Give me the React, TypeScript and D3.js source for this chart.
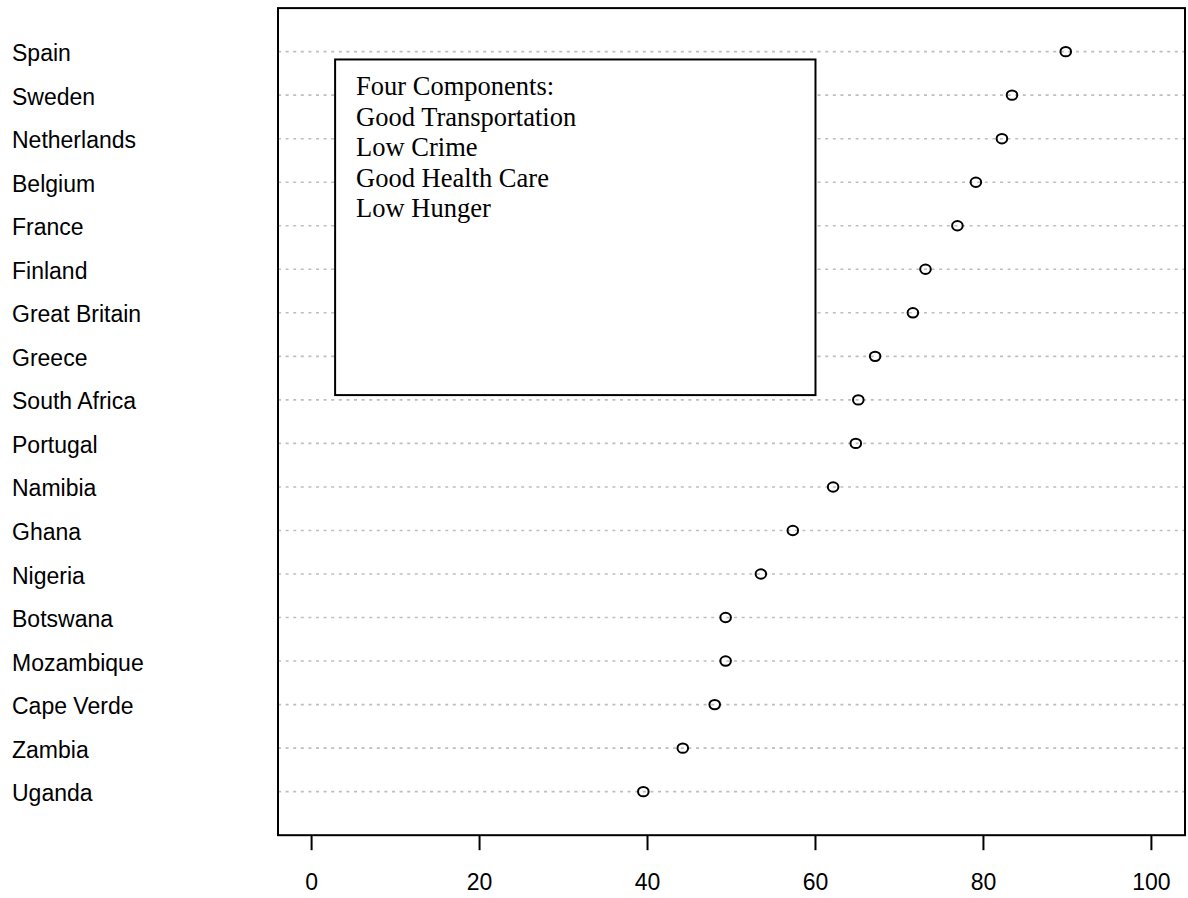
import React, { useRef, useEffect } from "react";
import * as d3 from "d3";

// countries top to bottom, scores
const countries = [
  "Spain", "Sweden", "Netherlands", "Belgium", "France", "Finland",
  "Great Britain", "Greece", "South Africa", "Portugal", "Namibia", "Ghana",
  "Nigeria", "Botswana", "Mozambique", "Cape Verde", "Zambia", "Uganda",
];
const scores = [
  89.8, 83.4, 82.2, 79.1, 76.9, 73.1,
  71.6, 67.1, 65.1, 64.8, 62.1, 57.3,
  53.5, 49.3, 49.3, 48.0, 44.2, 39.5,
];
const xTicks = [0, 20, 40, 60, 80, 100];
const legendLines = [
  "Four Components:",
  "Good Transportation",
  "Low Crime",
  "Good Health Care",
  "Low Hunger",
];

const W = 1188;
const H = 898;
const SANS = "'Liberation Sans', Arial, Helvetica, sans-serif";
const SERIF = "'Liberation Serif', 'Times New Roman', Times, serif";

const App = () => {
  const svgRef = useRef<SVGSVGElement | null>(null);

  useEffect(() => {
    const svg = d3.select(svgRef.current);
    svg.selectAll("*").remove();

    const n = countries.length;
    const x = d3.scaleLinear().domain([-4, 104]).range([278, 1185]);
    const y = d3.scaleLinear().domain([0, n + 1]).range([835.2, 8.1]);
    // row position: first country at top
    const rowY = (i: number) => y(n - i);

    const [x0, x1] = x.range();
    const [yb, yt] = y.range();

    // dotted guide lines
    svg.append("g")
      .selectAll("line")
      .data(countries)
      .enter()
      .append("line")
      .attr("x1", x0)
      .attr("x2", x1)
      .attr("y1", (d, i) => rowY(i))
      .attr("y2", (d, i) => rowY(i))
      .attr("stroke", "#bebebe")
      .attr("stroke-width", 1.6)
      .attr("stroke-dasharray", "3,4.6");

    // legend box (drawn in data coords, white fill covers lines)
    const lx = [2.8, 60];
    const ly = [17.82, 10.11];
    svg.append("rect")
      .attr("x", x(lx[0]))
      .attr("y", y(ly[0]))
      .attr("width", x(lx[1]) - x(lx[0]))
      .attr("height", y(ly[1]) - y(ly[0]))
      .attr("fill", "white")
      .attr("stroke", "black")
      .attr("stroke-width", 2);

    svg.append("g")
      .selectAll("text")
      .data(legendLines)
      .enter()
      .append("text")
      .attr("x", x(lx[0]) + 21)
      .attr("y", (d, i) => y(ly[0]) + 36 + i * 30.4)
      .attr("font-family", SERIF)
      .attr("font-size", 26.5)
      .attr("fill", "black")
      .text(d => d);

    // dots
    svg.append("g")
      .selectAll("ellipse")
      .data(scores)
      .enter()
      .append("ellipse")
      .attr("cx", d => x(d))
      .attr("cy", (d, i) => rowY(i))
      .attr("rx", 5.3)
      .attr("ry", 4.7)
      .attr("fill", "none")
      .attr("stroke", "black")
      .attr("stroke-width", 2);

    // plot frame
    svg.append("rect")
      .attr("x", x0)
      .attr("y", yt)
      .attr("width", x1 - x0)
      .attr("height", yb - yt)
      .attr("fill", "none")
      .attr("stroke", "black")
      .attr("stroke-width", 2);

    // country labels
    svg.append("g")
      .selectAll("text")
      .data(countries)
      .enter()
      .append("text")
      .attr("x", 12)
      .attr("y", (d, i) => rowY(i) + 9.5)
      .attr("font-family", SANS)
      .attr("font-size", 23)
      .attr("fill", "black")
      .text(d => d);

    // x axis
    const axis = svg.append("g");
    axis.selectAll("line")
      .data(xTicks)
      .enter()
      .append("line")
      .attr("x1", d => x(d))
      .attr("x2", d => x(d))
      .attr("y1", yb)
      .attr("y2", yb + 15)
      .attr("stroke", "black")
      .attr("stroke-width", 2);
    axis.selectAll("text")
      .data(xTicks)
      .enter()
      .append("text")
      .attr("x", d => x(d))
      .attr("y", 890)
      .attr("text-anchor", "middle")
      .attr("font-family", SANS)
      .attr("font-size", 23)
      .attr("fill", "black")
      .text(d => d);
  }, []);

  return (
    <svg
      ref={svgRef}
      width={W}
      height={H}
      style={{ position: "absolute", left: 0, top: 0, background: "white" }}
    />
  );
};

export default App;
